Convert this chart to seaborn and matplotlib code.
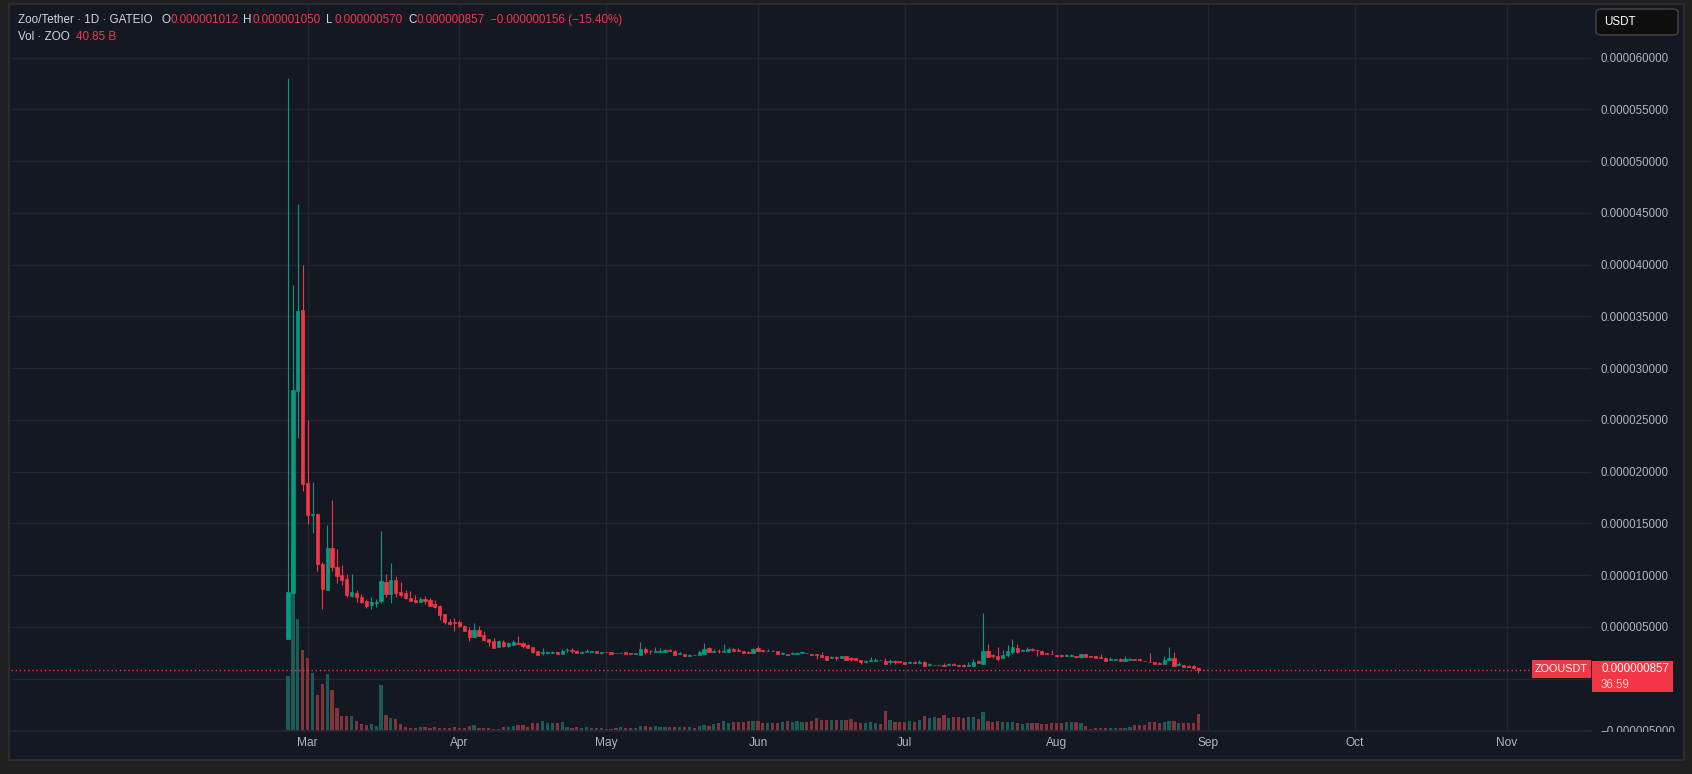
import matplotlib
matplotlib.use('Agg')
import matplotlib.pyplot as plt
import matplotlib.dates as mdates
from matplotlib.patches import Rectangle, FancyBboxPatch
from matplotlib.ticker import FuncFormatter
import numpy as np
import pandas as pd
import seaborn as sns

# ZOO/USDT daily candles, prices in 1e-6 USDT, volume in billions of ZOO
first_day = '2024-02-26'

opens = [3.8, 8.3, 27.8, 35.6, 18.9, 15.8, 15.9, 11.1, 8.6, 12.6,
         10.8, 10.0, 9.6, 8.0, 8.3, 7.9, 7.5, 7.1, 7.35, 7.5,
         9.3, 8.2, 9.5, 8.4, 8.3, 7.8, 7.6, 7.4, 7.7, 7.6,
         7.25, 7.0, 6.2, 5.5, 5.5, 5.45, 5.1, 4.65, 4.0, 4.65,
         4.2, 3.8, 3.6, 3.1, 3.58, 3.13, 3.29, 3.45, 3.48, 3.22,
         3.1, 2.7, 2.45, 2.47, 2.45, 2.55, 2.42, 2.74, 2.8, 2.7,
         2.5, 2.55, 2.6, 2.64, 2.5, 2.6, 2.55, 2.5, 2.45, 2.55,
         2.45, 2.35, 2.32, 2.9, 2.7, 2.55, 2.55, 2.55, 2.74, 2.7,
         2.35, 2.42, 2.16, 2.32, 2.26, 2.42, 2.93, 2.6, 2.7, 2.55,
         2.55, 2.9, 2.74, 2.7, 2.55, 2.45, 2.93, 2.8, 2.64, 2.7,
         2.7, 2.35, 2.42, 2.35, 2.35, 2.45, 2.5, 2.42, 2.35, 2.26,
         2.16, 1.97, 2.06, 1.97, 2.16, 1.97, 1.97, 1.84, 1.61, 1.68,
         1.68, 1.84, 1.74, 1.58, 1.68, 1.68, 1.58, 1.48, 1.58, 1.48,
         1.58, 1.29, 1.29, 1.35, 1.29, 1.29, 1.39, 1.29, 1.29, 1.19,
         1.19, 1.68, 1.42, 2.7, 2.26, 2.16, 1.97, 2.26, 2.6, 3.0,
         2.64, 2.64, 2.84, 2.8, 2.7, 2.5, 2.42, 2.32, 2.26, 2.16,
         2.16, 2.22, 2.06, 2.42, 2.16, 2.16, 2.06, 2.03, 1.77, 1.77,
         1.87, 1.68, 1.77, 1.87, 1.87, 1.74, 1.64, 1.64, 1.48, 1.39,
         1.77, 2.03, 1.29, 1.35, 1.19, 1.19, 1.012]

highs = [58.0, 38.0, 45.9, 40.0, 25.0, 19.0, 16.0, 11.3, 14.8, 17.3,
         12.5, 11.0, 10.1, 10.1, 8.6, 8.2, 7.7, 7.9, 7.7, 14.3,
         10.1, 11.2, 9.9, 9.3, 8.6, 8.5, 8.1, 7.9, 8.0, 7.8,
         7.6, 7.1, 6.2, 5.8, 5.85, 5.65, 5.2, 4.95, 5.35, 5.05,
         4.6, 3.8, 3.9, 3.7, 3.77, 3.5, 3.77, 4.16, 3.55, 3.38,
         3.1, 2.7, 3.0, 2.64, 2.7, 2.6, 2.84, 3.0, 3.0, 2.8,
         2.7, 2.84, 2.7, 2.7, 2.6, 2.6, 2.6, 2.5, 2.6, 2.6,
         2.5, 2.5, 3.5, 3.1, 2.8, 3.1, 3.0, 2.84, 2.9, 2.74,
         2.55, 2.42, 2.42, 2.32, 2.8, 3.48, 3.1, 2.9, 2.9, 3.38,
         3.1, 3.0, 3.0, 2.7, 2.7, 3.0, 3.19, 2.8, 2.9, 2.8,
         2.7, 2.6, 2.42, 2.6, 2.55, 2.6, 2.5, 2.42, 2.35, 2.6,
         2.16, 2.22, 2.16, 2.16, 2.16, 2.06, 1.97, 1.84, 1.77, 2.13,
         2.0, 1.84, 2.0, 1.93, 1.77, 1.74, 1.6, 1.68, 1.68, 1.84,
         1.68, 1.48, 1.35, 1.35, 1.48, 1.48, 1.48, 1.29, 1.39, 1.58,
         1.93, 1.84, 6.38, 3.38, 2.42, 3.1, 2.8, 3.29, 3.87, 3.38,
         2.84, 3.1, 3.0, 2.8, 2.8, 2.5, 2.8, 2.32, 2.42, 2.35,
         2.35, 2.22, 2.42, 2.42, 2.22, 2.22, 2.42, 2.13, 2.13, 1.93,
         2.03, 2.22, 1.97, 1.93, 1.97, 1.74, 2.5, 1.64, 1.58, 2.22,
         3.1, 2.6, 1.58, 1.35, 1.29, 1.29, 1.05]

lows = [3.8, 8.2, 23.2, 18.1, 14.9, 14.1, 10.4, 6.7, 8.6, 10.4,
        9.2, 9.0, 7.9, 7.9, 7.4, 7.3, 6.8, 6.7, 6.9, 7.3,
        7.9, 7.35, 7.9, 7.9, 7.7, 7.5, 7.3, 7.4, 7.25, 7.0,
        6.8, 5.7, 5.25, 5.2, 4.6, 4.95, 4.6, 3.6, 4.0, 4.1,
        3.6, 3.2, 3.0, 3.1, 3.1, 3.1, 3.29, 3.38, 3.0, 3.0,
        2.45, 2.32, 2.26, 2.35, 2.45, 2.42, 2.42, 2.58, 2.5, 2.5,
        2.5, 2.55, 2.6, 2.5, 2.42, 2.55, 2.42, 2.45, 2.45, 2.35,
        2.35, 2.35, 2.32, 2.35, 2.35, 2.55, 2.55, 2.55, 2.64, 2.26,
        2.35, 2.16, 2.16, 2.26, 2.26, 2.42, 2.55, 2.6, 2.5, 2.55,
        2.55, 2.64, 2.64, 2.45, 2.45, 2.45, 2.7, 2.6, 2.64, 2.64,
        2.35, 2.35, 2.26, 2.35, 2.35, 2.45, 2.45, 2.26, 1.87, 2.06,
        1.84, 1.97, 1.84, 1.97, 1.84, 1.74, 1.77, 1.39, 1.55, 1.68,
        1.68, 1.77, 1.39, 1.45, 1.45, 1.58, 1.39, 1.48, 1.48, 1.48,
        1.19, 1.19, 1.29, 1.29, 1.19, 1.29, 1.29, 1.19, 1.1, 1.19,
        1.19, 1.48, 1.39, 2.06, 1.97, 1.74, 1.97, 2.06, 2.35, 2.45,
        2.64, 2.64, 2.64, 2.16, 2.42, 2.35, 2.35, 2.06, 2.06, 2.16,
        2.16, 1.97, 1.97, 2.06, 2.06, 1.97, 1.97, 1.74, 1.77, 1.77,
        1.68, 1.68, 1.77, 1.77, 1.68, 1.68, 1.58, 1.39, 1.39, 1.39,
        1.77, 1.19, 1.29, 1.1, 1.1, 0.93, 0.57]

closes = [8.4, 27.9, 35.5, 18.8, 15.8, 15.9, 11.1, 8.7, 12.6, 10.8,
          9.9, 9.5, 8.1, 8.4, 7.9, 7.4, 7.0, 7.4, 7.45, 9.4,
          8.2, 9.5, 8.3, 8.1, 7.8, 7.5, 7.4, 7.7, 7.5, 7.05,
          6.9, 6.1, 5.45, 5.25, 5.4, 5.05, 4.6, 4.0, 4.65, 4.1,
          3.7, 3.5, 3.0, 3.6, 3.13, 3.42, 3.5, 3.38, 3.13, 3.0,
          2.6, 2.32, 2.55, 2.55, 2.6, 2.42, 2.7, 2.8, 2.7, 2.5,
          2.6, 2.64, 2.67, 2.5, 2.6, 2.55, 2.42, 2.45, 2.5, 2.35,
          2.35, 2.45, 2.9, 2.6, 2.64, 2.64, 2.64, 2.74, 2.64, 2.26,
          2.45, 2.16, 2.32, 2.26, 2.55, 2.9, 2.55, 2.7, 2.64, 2.64,
          2.84, 2.64, 2.64, 2.45, 2.45, 2.9, 2.7, 2.7, 2.7, 2.64,
          2.35, 2.45, 2.32, 2.45, 2.45, 2.55, 2.45, 2.32, 2.29, 2.06,
          1.84, 2.06, 1.97, 2.16, 1.84, 1.87, 1.77, 1.58, 1.71, 1.77,
          1.84, 1.77, 1.45, 1.74, 1.58, 1.58, 1.39, 1.58, 1.48, 1.58,
          1.19, 1.39, 1.35, 1.29, 1.19, 1.39, 1.29, 1.19, 1.19, 1.29,
          1.64, 1.48, 2.7, 2.13, 2.16, 1.87, 2.32, 2.7, 3.1, 2.55,
          2.74, 2.84, 2.74, 2.74, 2.42, 2.35, 2.35, 2.16, 2.16, 2.26,
          2.26, 2.06, 2.42, 2.06, 2.06, 1.97, 1.97, 1.74, 1.87, 1.87,
          1.68, 1.87, 1.87, 1.77, 1.77, 1.68, 1.58, 1.39, 1.39, 1.84,
          1.97, 1.19, 1.39, 1.1, 1.1, 1.013, 0.857]

volumes = [132, 435, 269, 195, 175, 139, 87, 113, 137, 99,
           55, 36, 36, 36, 24, 17, 14, 17, 12, 111,
           38, 31, 29, 17, 10, 7, 7, 10, 10, 7,
           10, 7, 7, 7, 10, 7, 7, 12, 14, 7,
           7, 7, 5, 5, 10, 10, 12, 14, 14, 10,
           19, 19, 24, 19, 19, 19, 22, 10, 7, 10,
           7, 10, 7, 7, 7, 5, 5, 7, 10, 7,
           7, 7, 12, 12, 10, 12, 10, 10, 10, 10,
           10, 10, 10, 7, 12, 14, 12, 17, 19, 24,
           19, 22, 22, 22, 24, 24, 24, 19, 19, 19,
           19, 22, 24, 22, 24, 22, 22, 24, 31, 26,
           26, 26, 26, 26, 26, 29, 22, 19, 19, 22,
           19, 17, 48, 26, 22, 22, 22, 24, 22, 26,
           36, 31, 34, 31, 38, 31, 34, 34, 31, 34,
           34, 29, 46, 24, 22, 24, 22, 22, 22, 19,
           17, 19, 19, 19, 17, 17, 19, 19, 19, 22,
           22, 22, 19, 12, 5, 7, 7, 7, 7, 7,
           7, 7, 10, 14, 14, 14, 22, 22, 19, 22,
           24, 24, 19, 19, 19, 19, 40.85]

month_starts = ['2024-03-01', '2024-04-01', '2024-05-01', '2024-06-01', '2024-07-01',
                '2024-08-01', '2024-09-01', '2024-10-01', '2024-11-01']
price_ticks = [-5, 0, 5, 10, 15, 20, 25, 30, 35, 40, 45, 50, 55, 60]

# colours
OUTER = '#1f1f1f'
BG = '#141823'
GRID = '#222631'
UP = '#089981'
DOWN = '#f23645'
VOL_UP = '#1c5c57'
VOL_DOWN = '#82343a'
TXT = '#d1d4dc'
AXT = '#b2b5be'

sns.set_theme(style='dark')
plt.rcParams['font.family'] = ['Liberation Sans', 'DejaVu Sans']

W, H = 1692, 774
def fx(x):
    return x / W
def fy(y):
    return 1 - y / H

o = np.array(opens) * 1e-6
h = np.array(highs) * 1e-6
l = np.array(lows) * 1e-6
c = np.array(closes) * 1e-6
dates = pd.date_range(first_day, periods=len(opens), freq='D')
xs = mdates.date2num(dates.to_pydatetime())
up = c >= o
direction = np.where(up, 'up', 'down')

fig = plt.figure(figsize=(W / 100, H / 100), dpi=100)
fig.patch.set_facecolor(OUTER)

panel = fig.add_axes([fx(9), fy(760), fx(1684) - fx(9), fy(4) - fy(760)], zorder=-1)
panel.set_facecolor(BG)
panel.set_xticks([])
panel.set_yticks([])
for s in panel.spines.values():
    s.set_color('#2b2b2b')
    s.set_linewidth(1.6)

ax = fig.add_axes([fx(11), fy(731), fx(1591) - fx(11), fy(5) - fy(731)])
ax.set_facecolor(BG)
pax = ax.twinx()

# volume, bottom layer
sns.barplot(x=xs, y=volumes, hue=direction, palette={'up': VOL_UP, 'down': VOL_DOWN},
            native_scale=True, width=0.65, dodge=False, saturation=1, errorbar=None,
            legend=False, linewidth=0, ax=ax)
ax.set_ylim(0, 1745)
ax.set_yticks([])
ax.set_xlabel('')
ax.set_ylabel('')

# grid
ticks = np.array(price_ticks) * 1e-6
ax.hlines(ticks, 0, 1, transform=pax.get_yaxis_transform(), colors=GRID, linewidth=1, zorder=0.5)
mnums = mdates.date2num(pd.to_datetime(month_starts).to_pydatetime())
ax.set_xticks(mnums)
ax.set_xticklabels(pd.to_datetime(month_starts).strftime('%b'))
ax.xaxis.grid(True, color=GRID, linewidth=1)
ax.yaxis.grid(False)
ax.set_axisbelow(True)
ax.tick_params(axis='x', length=0, pad=4, labelsize=8.6, labelcolor=AXT)
for name, s in ax.spines.items():
    s.set_visible(name == 'bottom')
ax.spines['bottom'].set_color(GRID)

# candles
colors = np.where(up, UP, DOWN)
pax.vlines(xs, l, h, colors=colors, linewidth=0.8)
pax.bar(xs, np.abs(c - o), bottom=np.minimum(o, c), width=0.65, color=colors,
        edgecolor=colors, linewidth=0.5)
pax.axhline(c[-1], color=DOWN, linestyle=(0, (1, 2)), linewidth=1)

def fmt(v):
    return f'{v:.9f}'.replace('-', '\u2212')

pax.set_ylim(-5.06e-6, 65.08e-6)
# the zero label sits under the last-price tag, so leave it blank
pax.set_yticks(ticks)
pax.yaxis.set_major_formatter(FuncFormatter(lambda v, p: '' if abs(v) < 1e-12 else fmt(v)))
pax.tick_params(axis='y', length=0, pad=6.5, labelsize=8.3, labelcolor=AXT)
pax.grid(False)
for s in pax.spines.values():
    s.set_visible(False)

ax.set_xlim(xs[0] - 56.6, xs[0] + 266.2)

# price-scale overlays
def box(x0, y0, x1, y1, color):
    fig.add_artist(Rectangle((fx(x0), fy(y1)), fx(x1) - fx(x0), fy(y0) - fy(y1),
                             transform=fig.transFigure, facecolor=color,
                             edgecolor='none', zorder=5))

box(1592, 732, 1682, 758, BG)
box(1532, 660, 1591, 678, DOWN)
box(1592, 661, 1673, 692, DOWN)
fig.text(fx(1561.5), fy(669), 'ZOOUSDT', color='white', fontsize=7.8, ha='center', va='center', zorder=6)
fig.text(fx(1601), fy(669.5), fmt(c[-1]), color='white', fontsize=8.3, va='center', zorder=6)
fig.text(fx(1601), fy(684.5), '36:59', color='#fbd0d4', fontsize=8.3, va='center', zorder=6)

fig.add_artist(FancyBboxPatch((fx(1596), fy(35)), fx(1678) - fx(1596), fy(9) - fy(35),
                              boxstyle='round,pad=0,rounding_size=0.004',
                              transform=fig.transFigure, facecolor='#0e0e0e',
                              edgecolor='#454545', linewidth=1, zorder=5))
fig.text(fx(1604), fy(22), 'USDT', color='white', fontsize=8.4, va='center', zorder=6)

# legend header
chg = c[-1] - c[-2]
pct = chg / c[-2] * 100
y1, y2 = fy(20), fy(37)
fig.text(fx(18), y1, 'Zoo/Tether \u00b7 1D \u00b7 GATEIO', color=TXT, fontsize=8.4, va='center', zorder=6)
for lab, lx, val, vx in [('O', 161, o[-1], 170), ('H', 243, h[-1], 252),
                         ('L', 326, l[-1], 334), ('C', 408, c[-1], 416)]:
    fig.text(fx(lx), y1, lab, color=TXT, fontsize=8.4, va='center', zorder=6)
    fig.text(fx(vx), y1, fmt(val), color=DOWN, fontsize=8.4, va='center', zorder=6)
fig.text(fx(490), y1, f'{fmt(chg)} ({pct:.2f}%)'.replace('-', '\u2212'), color=DOWN,
         fontsize=8.4, va='center', zorder=6)
fig.text(fx(18), y2, 'Vol \u00b7 ZOO', color=TXT, fontsize=8.4, va='center', zorder=6)
fig.text(fx(76), y2, f'{volumes[-1]:.2f} B', color=DOWN, fontsize=8.4, va='center', zorder=6)

plt.savefig('out.png', dpi=100, facecolor=fig.get_facecolor())
plt.close()
